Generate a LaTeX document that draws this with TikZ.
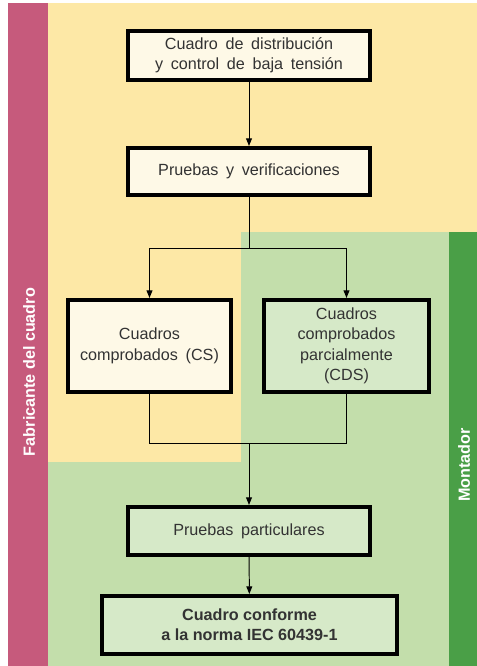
\documentclass[tikz,border=0pt]{standalone}
\usepackage{fontspec}
\setmainfont[WordSpace=1.7]{Liberation Sans}
\newfontfamily\labelfont{Liberation Sans}
\usepackage{xcolor}
\usepackage{tikz}
\usetikzlibrary{arrows.meta}
\definecolor{FCPink}{HTML}{C65A7C}
\definecolor{FCYellow}{HTML}{FDE8A6}
\definecolor{FCLightGreen}{HTML}{C3DEAB}
\definecolor{FCGreen}{HTML}{4A9F47}
\definecolor{FCCream}{HTML}{FEF9E7}
\definecolor{FCBoxGreen}{HTML}{D6E9C8}
\definecolor{FCText}{HTML}{333333}

\begin{document}
\begin{tikzpicture}[x=0.025cm,y=-0.025cm,
  fcbox/.style={draw=black,line width=2.8pt,align=center,text=FCText,
    font=\fontsize{11.5}{14.5}\selectfont,inner sep=0pt},
  fcarrow/.style={line width=0.7pt,-{Triangle[length=5.5pt,width=4.2pt]}},
  fcline/.style={line width=0.7pt},
  sidelabel/.style={rotate=90,text=white,font=\labelfont\bfseries\fontsize{11.5}{14}\selectfont}]
\path[use as bounding box] (0,0) rectangle (477,666);
% zones
\fill[FCPink] (8,3) rectangle (48,666);
\fill[FCYellow] (48,3) rectangle (477,462);
\fill[FCLightGreen] (241,232) rectangle (449,462);
\fill[FCLightGreen] (48,462) rectangle (449,666);
\fill[FCGreen] (449,232) rectangle (477,666);
\node[sidelabel] (fabricante) at (29,372) {Fabricante del cuadro};
\node[sidelabel] (montador) at (464,465) {Montador};
% boxes
\node[fcbox,fill=FCCream,minimum width=6.05cm,minimum height=1.225cm] (cuadro) at (249,55.5)
  {Cuadro de distribución\\y control de baja tensión};
\node[fcbox,fill=FCCream,minimum width=6.05cm,minimum height=1.175cm] (pruebas) at (249,171.5)
  {Pruebas y verificaciones};
\node[fcbox,fill=FCCream,minimum width=4.075cm,minimum height=2.3cm] (cs) at (149.5,346)
  {Cuadros\\comprobados (CS)};
\node[fcbox,fill=FCBoxGreen,minimum width=4.125cm,minimum height=2.3cm] (cds) at (346.5,346)
  {Cuadros\\comprobados\\parcialmente\\(CDS)};
\node[fcbox,fill=FCBoxGreen,minimum width=6.05cm,minimum height=1.2cm] (particulares) at (249,531)
  {Pruebas particulares};
\node[fcbox,fill=FCBoxGreen,minimum width=7.375cm,minimum height=1.45cm,
  font=\labelfont\bfseries\fontsize{11.5}{14.5}\selectfont] (conforme) at (249.5,625)
  {Cuadro conforme\\a la norma IEC 60439-1};
% connectors
\coordinate (split) at (249,248);
\coordinate (join) at (249,443);
\draw[fcarrow] (cuadro) -- (pruebas);
\draw[fcline] (pruebas) -- (split);
\draw[fcarrow] (split) -| (cs);
\draw[fcarrow] (split) -| (cds);
\draw[fcline] (cs) |- (join);
\draw[fcline] (cds) |- (join);
\draw[fcarrow] (join) -- (particulares);
\draw[fcarrow] (particulares) -- (conforme);
\end{tikzpicture}
\end{document}
